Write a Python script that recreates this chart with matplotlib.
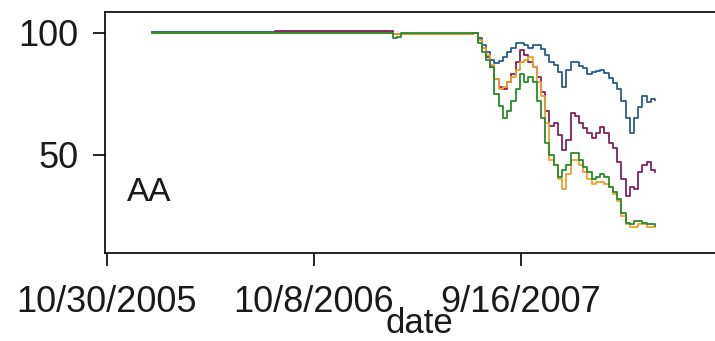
import pandas as pd
import matplotlib
matplotlib.use("Agg")
import matplotlib.pyplot as plt

plt.rcParams['font.family'] = ['Liberation Sans', 'DejaVu Sans']

# flat stretch before the drop (all series indexed to 100)
early_dates = ["2006-01-13", "2006-07-14", "2006-08-04", "2007-02-09",
               "2007-02-16", "2007-02-23", "2007-03-02", "2007-06-22"]
early_blue = [100.4, 100.4, 100.3, 100.0, 99.7, 99.7, 99.7, 99.7]
early_purple = [100.0, 100.0, 100.8, 100.8, 99.7, 99.7, 99.7, 99.7]
early_green = [100.0, 100.0, 100.0, 100.0, 98.0, 98.5, 100.0, 100.0]
early_orange = [100.0, 100.0, 100.0, 100.0, 99.7, 99.7, 99.7, 99.7]

# weekly values from mid 2007 on
late_dates = ["2007-06-29", "2007-07-06", "2007-07-13", "2007-07-20", "2007-07-27",
              "2007-08-03", "2007-08-10", "2007-08-17", "2007-08-24", "2007-08-31",
              "2007-09-07", "2007-09-14", "2007-09-21", "2007-09-28", "2007-10-05",
              "2007-10-12", "2007-10-19", "2007-10-26", "2007-11-02", "2007-11-09",
              "2007-11-16", "2007-11-23", "2007-11-30", "2007-12-07", "2007-12-14",
              "2007-12-21", "2007-12-28", "2008-01-04", "2008-01-11", "2008-01-18",
              "2008-01-25", "2008-02-01", "2008-02-08", "2008-02-15", "2008-02-22",
              "2008-02-29", "2008-03-07", "2008-03-14", "2008-03-21", "2008-03-28",
              "2008-04-04", "2008-04-11", "2008-04-18", "2008-04-25"]
late_blue = [100, 98, 95, 92, 89, 87.5, 88.5, 90, 92, 94,
             96, 96, 95, 94, 95, 95, 93.5, 91, 88, 87,
             84, 78, 85, 88, 88, 86.5, 85.5, 83, 84, 84.5,
             85, 83.5, 81.5, 79.5, 77, 72, 65, 59, 65, 69.5,
             74, 71.5, 73, 72.5]
late_purple = [100, 97, 94, 90, 86, 81, 78, 77, 80, 83,
               88, 93, 91, 88, 86, 82, 76, 68, 62, 63,
               58, 52, 56, 67, 66, 63, 61, 59, 57, 59,
               61.5, 59, 55, 53, 47, 40, 33, 37, 36, 43,
               46, 47, 44, 43]
late_green = [100, 96, 92, 89, 86, 75, 70, 65, 68, 72,
              77, 83, 80, 82, 80, 72, 65, 55, 50, 46,
              41, 44, 46, 51, 51, 48, 45, 43, 40, 41,
              42, 41, 37, 35, 32, 26, 22, 21.5, 23, 23,
              22, 21.5, 21.5, 21]
late_orange = [100, 97, 94, 91, 87, 81, 77, 78, 80, 82,
               85, 88, 89, 90, 86, 80, 74, 63, 48, 46,
               40, 36, 42, 48, 48, 46, 43, 40, 38, 39,
               39, 38, 37, 34, 31, 25, 21.5, 20.5, 20.5, 21.5,
               21.5, 20.5, 20.5, 20.5]

dates = pd.to_datetime(early_dates + late_dates)
series = [
    (early_blue + late_blue, "#2b5c8c"),
    (early_purple + late_purple, "#84205e"),
    (early_orange + late_orange, "#eea12e"),
    (early_green + late_green, "#2a8a2a"),
]

fig = plt.figure(figsize=(7.15, 3.41), dpi=100)
# right side runs past the edge of the picture, like the original
ax = fig.add_axes([105 / 715, 1 - 253 / 341, 628 / 715, 241 / 341])

for vals, col in series:
    ax.plot(dates, vals, color=col, lw=1.3, drawstyle="steps-post")

ax.set_xlim(pd.Timestamp("2005-10-27"), pd.Timestamp("2008-09-01"))
ax.set_ylim(9.8, 108.6)

ticks = pd.to_datetime(["2005-10-30", "2006-10-08", "2007-09-16"])
ax.set_xticks(ticks)
ax.set_xticklabels(["10/30/2005", "10/8/2006", "9/16/2007"])
ax.set_yticks([50, 100])

for s in ax.spines.values():
    s.set_linewidth(1.2)
ax.spines["right"].set_visible(False)

ax.tick_params(axis="both", labelsize=26, length=9, width=1.2,
               colors="black", labelcolor="#1a1a1a")
ax.tick_params(axis="x", pad=14)
ax.tick_params(axis="y", pad=10)

ax.set_xlabel("date", fontsize=25, labelpad=-9, color="#1a1a1a")
fig.text(127 / 715, 1 - 201 / 341, "AA", fontsize=24, ha="left",
         va="baseline", color="#1a1a1a")

fig.savefig("out.png", dpi=100)
